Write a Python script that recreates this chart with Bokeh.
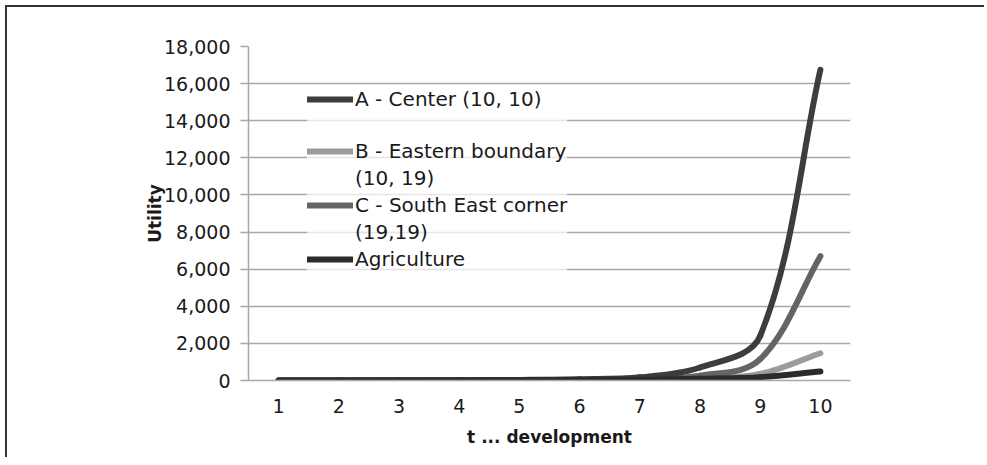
import numpy as np
from bokeh.plotting import figure
from bokeh.models import (FixedTicker, NumeralTickFormatter, Legend, LegendItem,
                          Range1d, ColumnDataSource)
from bokeh.embed import file_html
from bokeh.resources import INLINE

# ---- data ----
t_values = [1, 2, 3, 4, 5, 6, 7, 8, 9, 10]
a_center = [2, 4, 8, 15, 30, 65, 170, 700, 2400, 16750]
b_eastern = [1, 2, 4, 7, 12, 20, 40, 100, 350, 1470]
c_south_east = [1, 3, 6, 10, 20, 40, 80, 260, 1150, 6700]
agriculture = [1, 2, 3, 5, 10, 20, 40, 90, 180, 480]
y_ticks = [0, 2000, 4000, 6000, 8000, 10000, 12000, 14000, 16000, 18000]

FONT = "DejaVu Sans"
TXT = "#1a1a1a"
GRID = "#a8a8a8"

FRAME_W, FRAME_H = 602, 334
X0, X1 = 0.5, 10.5
Y0, Y1 = 0, 18000


def smooth_segments(x, y):
    """Excel-like smoothed line: cubic Bezier segments through the data points,
    control arms proportional to each segment's on-screen length."""
    sx = FRAME_W / (X1 - X0)
    sy = FRAME_H / (Y1 - Y0)
    x = np.asarray(x, float)
    y = np.asarray(y, float)
    px, py = x * sx, y * sy
    n = len(x)
    tx = np.zeros(n); ty = np.zeros(n)
    for i in range(n):
        a = max(i - 1, 0); b = min(i + 1, n - 1)
        dx, dy = px[b] - px[a], py[b] - py[a]
        L = np.hypot(dx, dy)
        tx[i], ty[i] = dx / L, dy / L
    cols = {k: [] for k in ("x0", "y0", "x1", "y1", "cx0", "cy0", "cx1", "cy1")}
    for i in range(n - 1):
        d = np.hypot(px[i + 1] - px[i], py[i + 1] - py[i]) / 3.0
        cols["x0"].append(x[i]); cols["y0"].append(y[i])
        cols["x1"].append(x[i + 1]); cols["y1"].append(y[i + 1])
        cols["cx0"].append((px[i] + tx[i] * d) / sx)
        cols["cy0"].append((py[i] + ty[i] * d) / sy)
        cols["cx1"].append((px[i + 1] - tx[i + 1] * d) / sx)
        cols["cy1"].append((py[i + 1] - ty[i + 1] * d) / sy)
    return ColumnDataSource(cols)


BL, BT = 241, 39
W, H = 979, 452
p = figure(width=W, height=H, output_backend="svg", toolbar_location=None,
           x_range=Range1d(X0, X1), y_range=Range1d(Y0, Y1),
           min_border_left=BL, min_border_right=W - BL - FRAME_W,
           min_border_top=BT, min_border_bottom=H - BT - FRAME_H)
p.styles = {"margin-left": "7px", "margin-top": "7px",
            "box-shadow": "-2px -2px 0px 0px #333333"}

p.outline_line_color = None
p.border_fill_color = "white"
p.background_fill_color = "white"
p.xgrid.grid_line_color = None
p.ygrid.grid_line_color = GRID
p.ygrid.grid_line_width = 1.5
p.ygrid.ticker = FixedTicker(ticks=y_ticks)

# y axis
p.yaxis.ticker = FixedTicker(ticks=y_ticks)
p.yaxis.formatter = NumeralTickFormatter(format="0,0")
p.yaxis.axis_line_color = GRID
p.yaxis.axis_line_width = 1.5
p.yaxis.major_tick_line_color = GRID
p.yaxis.major_tick_line_width = 1.5
p.yaxis.major_tick_out = 8
p.yaxis.major_tick_in = 0
p.yaxis.minor_tick_line_color = None
p.yaxis.major_label_standoff = 10
p.yaxis.major_label_text_font = FONT
p.yaxis.major_label_text_font_size = "19px"
p.yaxis.major_label_text_color = TXT
p.yaxis.axis_label = "Utility"
p.yaxis.axis_label_text_font = FONT
p.yaxis.axis_label_text_font_size = "17px"
p.yaxis.axis_label_text_font_style = "bold"
p.yaxis.axis_label_text_color = TXT
p.yaxis.axis_label_standoff = -4

# x axis
p.xaxis.ticker = FixedTicker(ticks=t_values)
p.xaxis.axis_line_color = GRID
p.xaxis.axis_line_width = 1.5
p.xaxis.major_tick_line_color = None
p.xaxis.major_tick_out = 0
p.xaxis.major_tick_in = 0
p.xaxis.minor_tick_line_color = None
p.xaxis.major_label_standoff = 18
p.xaxis.major_label_text_font = FONT
p.xaxis.major_label_text_font_size = "19px"
p.xaxis.major_label_text_color = TXT
p.xaxis.axis_label = "t ... development"
p.xaxis.axis_label_text_font = FONT
p.xaxis.axis_label_text_font_size = "17px"
p.xaxis.axis_label_text_font_style = "bold"
p.xaxis.axis_label_text_color = TXT
p.xaxis.axis_label_standoff = 11

series = {
    "B": (b_eastern, "#9c9c9c"),
    "C": (c_south_east, "#656565"),
    "A": (a_center, "#3d3d3d"),
    "Ag": (agriculture, "#2b2b2b"),
}
rend = {}
for key, (vals, col) in series.items():
    src = smooth_segments(t_values, vals)
    rend[key] = p.bezier(x0="x0", y0="y0", x1="x1", y1="y1", cx0="cx0", cy0="cy0",
                         cx1="cx1", cy1="cy1", source=src, line_color=col,
                         line_width=6, line_cap="round")

# invisible placeholder renderer for text-only legend rows
blank = p.line(x=[], y=[], line_alpha=0)

items = [
    LegendItem(label="A - Center (10, 10)", renderers=[rend["A"]]),
    LegendItem(label=" ", renderers=[blank]),
    LegendItem(label="B - Eastern boundary", renderers=[rend["B"]]),
    LegendItem(label="(10, 19)", renderers=[blank]),
    LegendItem(label="C - South East corner", renderers=[rend["C"]]),
    LegendItem(label="(19,19)", renderers=[blank]),
    LegendItem(label="Agriculture", renderers=[rend["Ag"]]),
]
legend = Legend(items=items, location=(59, 109), orientation="vertical",
                glyph_width=46, glyph_height=22, label_height=22, spacing=3,
                label_standoff=2, padding=5, margin=0,
                label_text_font=FONT, label_text_font_size="20px",
                label_text_color=TXT,
                background_fill_color="white", background_fill_alpha=0.7,
                border_line_color=None)
p.add_layout(legend, "center")

open("out.html", "w").write(file_html(p, INLINE))
